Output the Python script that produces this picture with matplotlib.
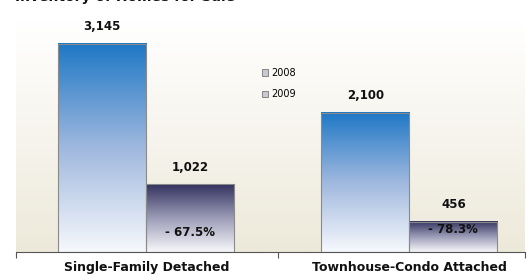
import numpy as np
import matplotlib
matplotlib.use("Agg")
import matplotlib.pyplot as plt
from matplotlib.colors import LinearSegmentedColormap
from matplotlib.patches import Patch

# data
categories = ["Single-Family Detached", "Townhouse-Condo Attached"]
years = ["2008", "2009"]
inventory_2008 = [3145, 2100]
inventory_2009 = [1022, 456]
pct_change = ["- 67.5%", "- 78.3%"]

blue = LinearSegmentedColormap.from_list("b", ["#f6f8fc", "#9fb8de", "#1f78c6"])
navy = LinearSegmentedColormap.from_list("n", ["#f7f7fa", "#9c9cb8", "#33335f"])

fig = plt.figure(figsize=(5.29, 2.78), dpi=100)
ax = fig.add_axes([16 / 529, 1 - 252 / 278, 509 / 529, 232 / 278])

ax.set_xlim(-0.495, 1.44)
ax.set_ylim(0, 3500)

# background: white at top fading to light beige
bg = LinearSegmentedColormap.from_list("bg", ["#ede9da", "#ffffff"])
ax.imshow(np.linspace(0, 1, 100).reshape(-1, 1), cmap=bg, aspect="auto",
          extent=[-0.495, 1.44, 0, 3500], origin="lower", zorder=0)

width = 0.335
grad = np.linspace(0, 1, 200).reshape(-1, 1)
for i in range(len(categories)):
    for j, (vals, cmap) in enumerate([(inventory_2008, blue), (inventory_2009, navy)]):
        x0 = i + (j - 1) * width
        h = vals[i]
        ax.imshow(grad, cmap=cmap, aspect="auto", origin="lower",
                  extent=[x0, x0 + width, 0, h], zorder=2)
        ax.bar(x0, h, width, align="edge", facecolor="none",
               edgecolor="#8a8a8a", linewidth=0.8, zorder=3)
        ax.text(x0 + width / 2, h + 255, f"{h:,}", ha="center", va="center",
                fontsize=8.5, fontweight="bold", color="#111111", zorder=4)
    ax.text(i + width / 2, 300 if i == 0 else 345, pct_change[i], ha="center",
            va="center", fontsize=8.5, fontweight="bold", color="#111111", zorder=4)

ax.set_xlim(-0.495, 1.44)
ax.set_ylim(0, 3500)

for s in ["top", "right", "left"]:
    ax.spines[s].set_visible(False)
ax.spines["bottom"].set_color("#555555")
ax.spines["bottom"].set_linewidth(0.8)
ax.set_yticks([])
ax.set_xticks([-0.495, 0.5, 1.44])
ax.set_xticklabels([])
ax.tick_params(axis="x", length=4, color="#555555", width=0.8)

for i, cat in enumerate(categories):
    ax.text(i, -230, cat, ha="center", va="center", fontsize=9,
            fontweight="bold", color="#111111", clip_on=False)

handles = [Patch(facecolor="#c9c9d2", edgecolor="#777777", linewidth=0.6, label=y) for y in years]
ax.legend(handles=handles, loc="upper left", bbox_to_anchor=(0.473, 0.815),
          frameon=False, fontsize=7, handlelength=0.7, handleheight=0.7,
          handletextpad=0.3, labelspacing=1.2, borderpad=0)

# title mostly cut off at the top of the picture, as in the reference
fig.text(0.028, 1.012, "Inventory of Homes for Sale", ha="left", va="center",
         fontsize=10, fontweight="bold", color="#111111")

fig.savefig("out.png", dpi=100)
